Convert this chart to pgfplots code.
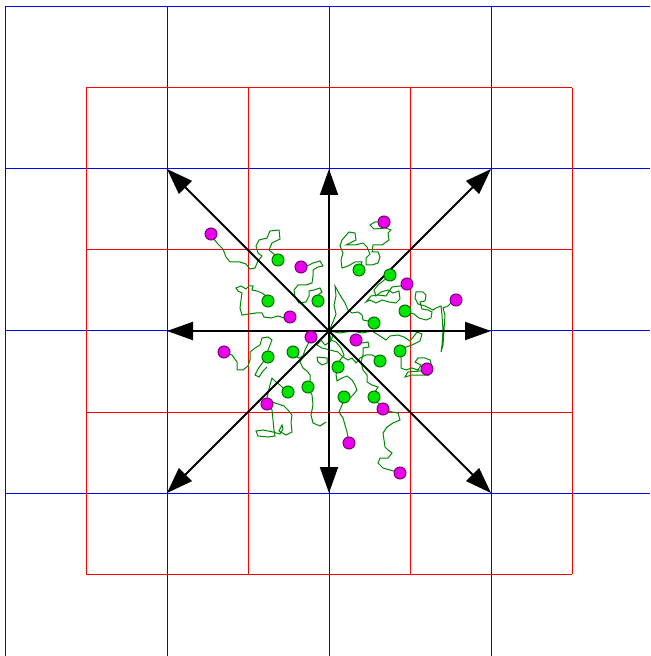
\documentclass[border=0pt]{standalone}
\usepackage{pgfplots}
\pgfplotsset{compat=1.18}
\usetikzlibrary{arrows.meta}
\definecolor{gridblue}{RGB}{0,0,255}
\definecolor{gridred}{RGB}{255,0,0}
\definecolor{walk}{RGB}{0,135,0}
\definecolor{gfill}{RGB}{0,230,0}
\definecolor{gdraw}{RGB}{0,110,0}
\definecolor{mfill}{RGB}{235,0,235}
\definecolor{mdraw}{RGB}{120,0,120}
\begin{document}
\begin{tikzpicture}
\begin{axis}[hide axis, scale only axis, width=325pt, height=328pt,
  xmin=0, xmax=650, ymin=0, ymax=656, y dir=reverse, clip=true,
  every axis plot/.append style={forget plot}]
% frame fixing the picture's extent
\addplot[draw=none] coordinates {(0,0) (650,656)};
% blue grid
\addplot[gridblue, line width=0.5pt] coordinates {(5,7) (5,656)};
\addplot[gridblue, line width=0.5pt] coordinates {(167,7) (167,656)};
\addplot[gridblue, line width=0.5pt] coordinates {(329,7) (329,656)};
\addplot[gridblue, line width=0.5pt] coordinates {(491,7) (491,656)};
\addplot[gridblue, line width=0.5pt] coordinates {(5,7) (650,7)};
\addplot[gridblue, line width=0.5pt] coordinates {(5,169) (650,169)};
\addplot[gridblue, line width=0.5pt] coordinates {(5,331) (650,331)};
\addplot[gridblue, line width=0.5pt] coordinates {(5,493) (650,493)};
% red grid
\addplot[gridred, line width=0.5pt] coordinates {(86,88) (86,574)};
\addplot[gridred, line width=0.5pt] coordinates {(248,88) (248,574)};
\addplot[gridred, line width=0.5pt] coordinates {(410,88) (410,574)};
\addplot[gridred, line width=0.5pt] coordinates {(572,88) (572,574)};
\addplot[gridred, line width=0.5pt] coordinates {(86,88) (572,88)};
\addplot[gridred, line width=0.5pt] coordinates {(86,250) (572,250)};
\addplot[gridred, line width=0.5pt] coordinates {(86,412) (572,412)};
\addplot[gridred, line width=0.5pt] coordinates {(86,574) (572,574)};
% random walks
\addplot[walk, line width=0.5pt] coordinates {(278,260) (275,255) (269,250) (272,243) (280,239) (279,230) (270,231) (267,238) (259,240) (256,246) (258,253) (262,256) (258,261) (255,268) (250,269) (246,264) (240,262) (230,262) (226,257) (223,249) (218,244) (213,238) (211,234)};
\addplot[walk, line width=0.5pt] coordinates {(318,301) (318,295) (322,292) (320,288) (314,290) (309,291) (309,296) (306,302) (299,303) (295,297) (294,290) (298,285) (306,285) (312,283) (313,276) (313,270) (318,267) (323,266) (320,261) (313,263) (307,266) (301,267)};
\addplot[walk, line width=0.5pt] coordinates {(268,301) (266,296) (262,293) (257,291) (252,290) (253,286) (249,286) (246,289) (241,286) (236,288) (238,291) (242,293) (241,300) (240,308) (242,315) (249,314) (256,313) (262,313) (264,317) (271,318) (278,316) (284,318) (290,317)};
\addplot[walk, line width=0.5pt] coordinates {(359,270) (362,262) (355,262) (348,266) (342,268) (341,260) (343,253) (340,246) (342,240) (349,232) (355,233) (356,240) (350,243) (346,245) (355,245) (363,243) (367,247) (370,254) (366,258) (366,265) (372,265) (378,263) (380,257) (378,252) (372,252) (373,245) (382,245) (389,240) (388,233) (391,230) (386,228) (374,229) (370,225) (375,222) (384,222)};
\addplot[walk, line width=0.5pt] coordinates {(390,275) (383,281) (378,285) (374,290) (376,296) (381,292) (388,290) (393,293) (399,291) (400,299) (396,303) (389,302) (382,300) (376,303) (370,300) (366,302) (371,296) (378,295) (386,296) (392,287) (400,286) (407,284)};
\addplot[walk, line width=0.5pt] coordinates {(405,311) (410,313) (414,314) (419,318) (426,320) (431,318) (432,312) (428,310) (422,309) (420,302) (425,301) (426,295) (423,292) (416,292) (415,298) (418,304) (425,306) (433,310) (436,308) (441,306) (442,315) (443,330) (442,345) (441,352) (443,345) (444,330) (445,315) (443,308) (448,306) (452,302) (456,300)};
\addplot[walk, line width=0.5pt] coordinates {(329,331) (333,322) (336,314) (334,305) (336,296) (335,286) (340,295) (345,303) (348,310) (352,313) (358,312) (362,315) (363,320) (368,321) (374,323)};
\addplot[walk, line width=0.5pt] coordinates {(329,331) (333,336) (330,342) (325,345) (321,340) (317,345) (322,348) (330,350) (338,352) (343,357) (348,360) (352,358) (356,363) (360,358) (366,355) (372,355) (378,358) (380,361)};
\addplot[walk, line width=0.5pt] coordinates {(329,331) (340,333) (352,331) (362,333) (372,331) (380,336) (386,340) (390,336) (398,335) (404,337) (410,341) (414,336) (417,332) (422,334) (420,341) (412,345) (406,347) (400,351) (401,358) (401,368) (406,370) (412,368) (418,370) (421,365) (415,362) (418,358) (425,358) (430,360) (432,367) (429,375) (423,375) (412,375) (405,377) (408,372) (420,371) (427,369)};
\addplot[walk, line width=0.5pt] coordinates {(356,340) (362,343) (368,342) (369,347) (363,348) (363,355) (361,362) (363,370) (367,375) (367,382) (372,385) (378,387) (375,392) (374,397)};
\addplot[walk, line width=0.5pt] coordinates {(329,331) (331,340) (336,342) (341,348) (344,355) (340,360) (338,367) (336,375) (337,381) (342,378) (347,376) (352,380) (355,385) (357,390) (353,395) (350,398) (344,397) (342,405) (339,412) (343,418) (345,425) (347,432) (349,443)};
\addplot[walk, line width=0.5pt] coordinates {(374,397) (378,403) (383,409) (392,412) (398,413) (400,420) (393,423) (387,427) (383,433) (385,447) (388,450) (392,453) (388,458) (380,458) (378,463) (383,468) (390,470) (397,472) (400,473)};
\addplot[walk, line width=0.5pt] coordinates {(224,352) (232,355) (237,362) (237,370) (243,370) (248,366) (250,360) (250,352) (255,348) (260,345) (262,338) (268,337) (272,340) (268,350) (268,357) (263,362) (258,369) (255,375) (259,377) (263,371) (267,367)};
\addplot[walk, line width=0.5pt] coordinates {(311,337) (308,344) (305,350) (303,356) (299,358) (295,356) (293,352)};
\addplot[walk, line width=0.5pt] coordinates {(303,356) (300,362) (303,368) (307,371) (310,375) (310,381) (308,387) (312,395) (313,405) (311,415) (313,423) (320,426) (326,422)};
\addplot[walk, line width=0.5pt] coordinates {(317,357) (327,358) (327,363) (322,365) (318,362) (317,357)};
\addplot[walk, line width=0.5pt] coordinates {(288,392) (284,389) (280,385) (276,382) (272,378) (270,385) (268,393) (267,398) (267,404) (272,410) (273,420) (274,430) (275,436) (268,437) (258,436) (256,431) (263,430) (273,432) (280,434) (283,429) (282,425) (279,431) (286,435) (292,432) (291,422) (292,415) (288,410) (284,406) (278,404) (272,402)};
% arrows
\addplot[black, line width=1pt, -{Triangle[length=13pt,width=9pt]}] coordinates {(329,331) (491,331)};
\addplot[black, line width=1pt, -{Triangle[length=13pt,width=9pt]}] coordinates {(329,331) (167,331)};
\addplot[black, line width=1pt, -{Triangle[length=13pt,width=9pt]}] coordinates {(329,331) (329,169)};
\addplot[black, line width=1pt, -{Triangle[length=13pt,width=9pt]}] coordinates {(329,331) (329,493)};
\addplot[black, line width=1pt, -{Triangle[length=13pt,width=9pt]}] coordinates {(329,331) (491,169)};
\addplot[black, line width=1pt, -{Triangle[length=13pt,width=9pt]}] coordinates {(329,331) (167,169)};
\addplot[black, line width=1pt, -{Triangle[length=13pt,width=9pt]}] coordinates {(329,331) (491,493)};
\addplot[black, line width=1pt, -{Triangle[length=13pt,width=9pt]}] coordinates {(329,331) (167,493)};
% dots
\addplot[only marks, mark=*, mark size=3pt, mark options={fill=gfill, draw=gdraw, line width=0.5pt}] coordinates {(278,260) (268,301) (318,301) (359,270) (390,275) (405,311) (374,323) (268,357) (293,352) (338,367) (380,361) (400,351) (308,387) (288,392) (344,397) (374,397)};
\addplot[only marks, mark=*, mark size=3pt, mark options={fill=mfill, draw=mdraw, line width=0.5pt}] coordinates {(211,234) (301,267) (384,222) (407,284) (456,300) (290,317) (311,337) (356,340) (224,352) (427,369) (267,404) (383,409) (349,443) (400,473)};
\end{axis}
\end{tikzpicture}
\end{document}
